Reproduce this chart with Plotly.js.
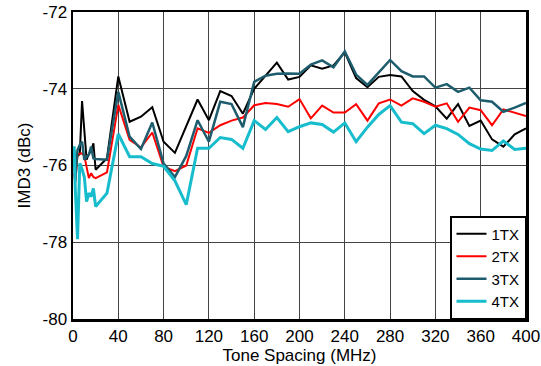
<!DOCTYPE html>
<html>
<head>
<meta charset="utf-8">
<script src="https://cdn.plot.ly/plotly-3.0.1.min.js"></script>
<style>html,body{margin:0;padding:0;background:#fff;}#chart{width:541px;height:366px;}</style>
</head>
<body>
<div id="chart"></div>
<script>
const toneSpacing = [1,2,4,6,8,10,12,14,16,18,20,30,40,50,60,70,80,90,100,110,120,130,140,150,160,170,180,190,200,210,220,230,240,250,260,270,280,290,300,310,320,330,340,350,360,370,380,390,400];
const imd3_1TX = [-75.6,-75.9,-75.75,-75.7,-74.32,-75.1,-75.85,-75.7,-75.62,-75.42,-76.11,-75.81,-73.68,-74.86,-74.73,-74.48,-75.38,-75.67,-74.96,-74.28,-74.82,-74.06,-74.19,-74.65,-74.0,-73.66,-73.32,-73.76,-73.69,-73.39,-73.48,-73.39,-73.05,-73.72,-73.96,-73.69,-73.64,-73.68,-74.06,-74.29,-74.46,-74.78,-74.4,-74.97,-74.83,-75.32,-75.51,-75.19,-75.03];
const imd3_2TX = [-76.2,-76.45,-75.7,-75.68,-75.68,-75.75,-76.08,-76.33,-76.2,-76.3,-76.33,-76.18,-74.42,-75.33,-75.53,-75.14,-76.03,-76.15,-76.0,-75.03,-75.15,-74.95,-74.83,-74.75,-74.43,-74.37,-74.4,-74.47,-74.27,-74.77,-74.44,-74.62,-74.62,-74.4,-74.83,-74.38,-74.28,-74.44,-74.25,-74.34,-74.47,-74.38,-74.86,-74.49,-74.56,-74.95,-74.54,-74.63,-74.71];
const imd3_3TX = [-75.6,-76.4,-75.6,-75.46,-75.38,-75.85,-75.77,-75.72,-75.51,-75.81,-75.83,-75.85,-74.08,-75.25,-75.57,-74.88,-75.95,-76.3,-75.75,-74.82,-75.38,-74.34,-74.4,-75.0,-73.82,-73.66,-73.61,-73.6,-73.61,-73.37,-73.26,-73.44,-73.03,-73.63,-73.9,-73.57,-73.25,-73.54,-73.68,-73.68,-73.97,-73.88,-74.08,-73.97,-74.3,-74.34,-74.6,-74.49,-74.37];
const imd3_4TX = [-75.5,-76.6,-77.92,-75.94,-76.1,-76.3,-76.94,-76.72,-76.81,-76.6,-77.07,-76.72,-75.18,-75.77,-75.77,-75.95,-76.02,-76.4,-77.02,-75.55,-75.55,-75.27,-75.32,-75.55,-74.83,-75.06,-74.75,-75.12,-74.99,-74.89,-74.93,-75.13,-74.89,-75.38,-75.0,-74.67,-74.44,-74.87,-74.91,-75.17,-74.95,-75.04,-75.19,-75.43,-75.57,-75.61,-75.36,-75.58,-75.55];
const seriesNames = ['1TX','2TX','3TX','4TX'];
const xTicks = [0,40,80,120,160,200,240,280,320,360,400];
const yTicks = [-80,-78,-76,-74,-72];

const colors = ['#000000','#ff0000','#1d5d6d','#17bdcc'];
const widths = [2,2,2.5,3];
const ys = [imd3_1TX, imd3_2TX, imd3_3TX, imd3_4TX];
const traces = ys.map((y,i)=>({
  x: toneSpacing, y: y, name: seriesNames[i], type:'scatter', mode:'lines',
  line:{color:colors[i], width:widths[i]}
}));
const font = {family:'"Liberation Sans", Arial, sans-serif', size:17, color:'#000'};
const layout = {
  width:541, height:366,
  margin:{l:73, r:15, t:12, b:47},
  paper_bgcolor:'#fff', plot_bgcolor:'#fff',
  font: font,
  showlegend:true,
  xaxis:{range:[0,400], tickvals:xTicks, ticktext:xTicks.map(String), showgrid:true, gridcolor:'#444', gridwidth:1,
    showline:true, mirror:true, linecolor:'#000', linewidth:2.5, zeroline:false, ticks:'', automargin:false,
    title:{text:'Tone Spacing (MHz)', font:font, standoff:0}, tickfont:font},
  yaxis:{range:[-80,-72], tickvals:yTicks, ticktext:yTicks.map(String), showgrid:true, gridcolor:'#444', gridwidth:1,
    showline:true, mirror:true, linecolor:'#000', linewidth:2.5, zeroline:false, ticks:'', automargin:false,
    title:{text:'IMD3 (dBc)', font:font, standoff:8}, tickfont:font},
  legend:{x:1, xanchor:'right', y:0, yanchor:'bottom', bgcolor:'#fff', bordercolor:'#000', borderwidth:1.5,
    font:{family:font.family, size:15, color:'#000'}, itemwidth:30, tracegroupgap:0}
};
Plotly.newPlot('chart', traces, layout, {staticPlot:true, displayModeBar:false});
</script>
</body>
</html>
